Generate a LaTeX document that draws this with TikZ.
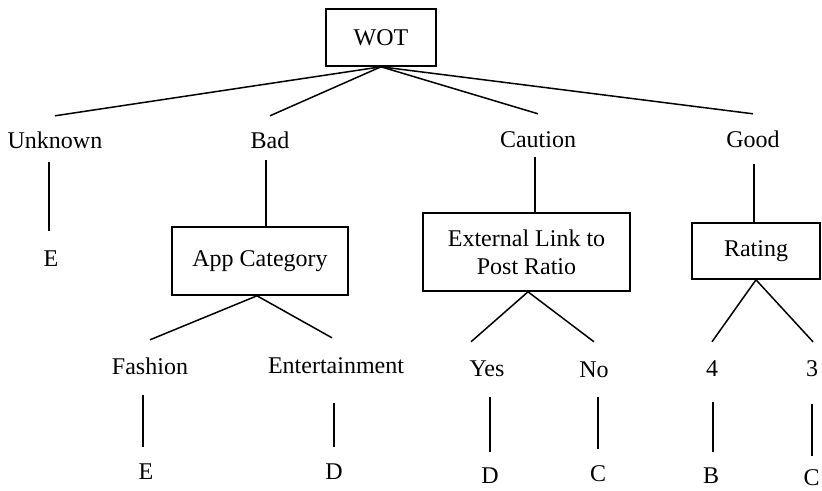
\documentclass[tikz,border=0pt]{standalone}
\usepackage{fontspec}
\setmainfont{Liberation Serif}
\begin{document}
\begin{tikzpicture}[x=1pt,y=-1pt,
  lbl/.style={inner sep=0pt, anchor=base, text height=16pt, text depth=0pt, font=\fontsize{24}{28}\selectfont},
  box/.style={draw, line width=1.6pt, inner sep=0pt, font=\fontsize{24}{28}\selectfont, align=center},
  edge/.style={line width=1.5pt}]
\useasboundingbox (0,0) rectangle (822,490);
% boxes
\node[box, minimum width=110pt, minimum height=57pt] (wot) at (381,37.5) {WOT};
\node[box, minimum width=176pt, minimum height=68pt] (app) at (260,261) {App Category};
\node[box, minimum width=207pt, minimum height=78pt] (ext) at (526.5,252) {External Link to\\[0pt]Post Ratio};
\node[box, minimum width=128pt, minimum height=56pt] (rat) at (756,251) {Rating};
% level 1 labels
\node[lbl] (unknown) at (55,148) {Unknown};
\node[lbl] (bad) at (270,148) {Bad};
\node[lbl] (caution) at (538,147.5) {Caution};
\node[lbl] (good) at (753,147.5) {Good};
% leaves / values
\node[lbl] (e1) at (51,266) {E};
\node[lbl] (fashion) at (150,374) {Fashion};
\node[lbl] (entert) at (336,373) {Entertainment};
\node[lbl] (e2) at (146,479) {E};
\node[lbl] (d1) at (334,479) {D};
\node[lbl] (yes) at (487,376) {Yes};
\node[lbl] (no) at (594,377) {No};
\node[lbl] (four) at (712,376) {4};
\node[lbl] (three) at (812,376) {3};
\node[lbl] (d2) at (490,483) {D};
\node[lbl] (c1) at (598,481) {C};
\node[lbl] (b) at (711,483) {B};
\node[lbl] (c2) at (811.5,485.5) {C};
% connectors from WOT
\draw[edge] (wot.south) -- ([yshift=16pt]unknown.north);
\draw[edge] (wot.south) -- ([yshift=16pt]bad.north);
\draw[edge] (wot.south) -- ([yshift=17.5pt]caution.north);
\draw[edge] (wot.south) -- ([yshift=17.5pt]good.north);
% Unknown
\draw[edge] ([xshift=-2pt,yshift=-14pt]e1.north |- unknown.south) -- ([xshift=-2pt,yshift=19pt]e1.north);
% Bad
\draw[edge] ([xshift=-4pt,yshift=-12pt]bad.south) -- ([xshift=-4pt]bad.south |- app.north);
\draw[edge] ([xshift=-3pt]app.south) -- ([yshift=18pt]fashion.north);
\draw[edge] ([xshift=-3pt]app.south) -- ([xshift=-4pt,yshift=19pt]entert.north);
\draw[edge] ([xshift=-3pt,yshift=-21pt]e2.north |- fashion.south) -- ([xshift=-3pt,yshift=16pt]e2.north);
\draw[edge] ([yshift=-30pt]d1.north |- entert.south) -- ([yshift=16pt]d1.north);
% Caution
\draw[edge] ([xshift=-3pt,yshift=-9.5pt]caution.south) -- ([xshift=-3pt]caution.south |- ext.north);
\draw[edge] ([xshift=1.5pt]ext.south) -- ([xshift=-16pt,yshift=18pt]yes.north);
\draw[edge] ([xshift=1.5pt]ext.south) -- ([yshift=19pt]no.north);
\draw[edge] ([yshift=-21pt]d2.north |- yes.south) -- ([yshift=15pt]d2.north);
\draw[edge] ([yshift=-20pt]c1.north |- no.south) -- ([yshift=16pt]c1.north);
% Good
\draw[edge] ([xshift=1pt,yshift=-16.5pt]good.south) -- ([xshift=1pt]good.south |- rat.north);
\draw[edge] (rat.south) -- ([yshift=18pt]four.north);
\draw[edge] (rat.south) -- ([xshift=1pt,yshift=18pt]three.north);
\draw[edge] ([xshift=2pt,yshift=-26pt]b.north |- four.south) -- ([xshift=2pt,yshift=15pt]b.north);
\draw[edge] ([xshift=0.5pt,yshift=-28pt]c2.north |- three.south) -- ([xshift=0.5pt,yshift=13.5pt]c2.north);
\end{tikzpicture}
\end{document}
